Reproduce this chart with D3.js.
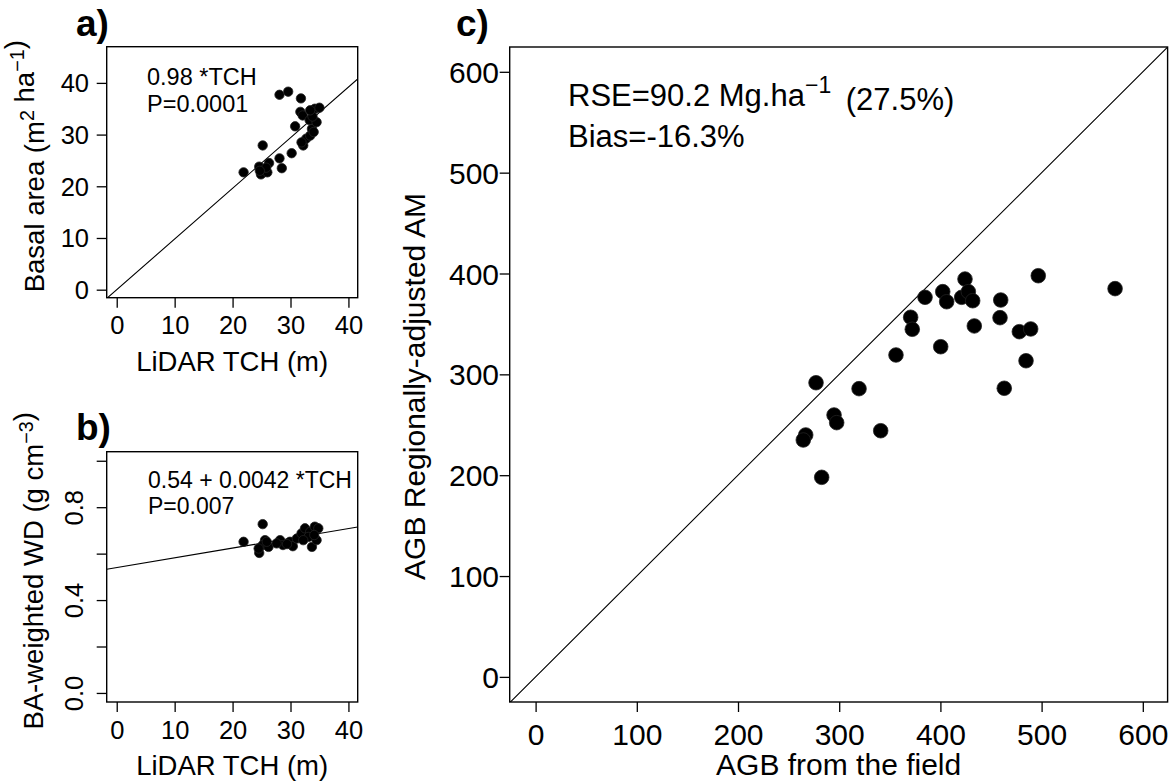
<!DOCTYPE html>
<html>
<head>
<meta charset="utf-8">
<title>TCH panels</title>
<style>
  body { margin: 0; background: #fff; }
  svg text { font-family: "Liberation Sans", Arial, Helvetica, sans-serif; fill: #000; }
</style>
</head>
<body>
<script src="https://cdn.jsdelivr.net/npm/d3@7/dist/d3.min.js"></script>
<script>
  // ---- data ----
  // panel a: LiDAR TCH (m) vs basal area (m2/ha)
  var tchA = [21.9, 25.2, 24.6, 25.3, 24.9, 26.0, 26.3, 28.1, 28.5, 30.2, 28.1, 29.6, 31.8, 30.8, 31.7,
              32.1, 32.2, 32.7, 33.4, 33.7, 33.3, 34.2, 35.0, 34.5, 33.8, 34.0, 31.9, 25.8, 33.4, 24.7];
  var baA  = [22.7, 27.9, 23.8, 22.7, 22.3, 22.7, 24.5, 25.4, 23.5, 26.4, 37.7, 38.3, 37.0, 31.6, 34.4,
              33.7, 27.9, 29.2, 29.8, 31.1, 32.8, 35.0, 35.2, 32.4, 33.5, 30.5, 28.5, 23.6, 34.7, 23.0];

  // panel b: LiDAR TCH (m) vs BA-weighted wood density
  var tchB = [21.9, 25.2, 24.6, 25.6, 25.2, 26.2, 28.2, 28.7, 29.9, 30.4, 31.1, 31.9, 32.5, 33.4, 34.2,
              34.8, 33.7, 34.5, 33.1, 29.4, 27.6, 24.5, 34.1, 32.2, 25.9];
  var wdB  = [0.651, 0.727, 0.603, 0.658, 0.637, 0.629, 0.658, 0.637, 0.651, 0.632, 0.665, 0.687, 0.709, 0.694, 0.716,
              0.709, 0.629, 0.658, 0.672, 0.641, 0.644, 0.622, 0.680, 0.658, 0.651];

  // panel c: field AGB vs regionally-adjusted AM
  var agbField = [496.7, 424.3, 402.3, 384.8, 406.2, 421.0, 427.6, 431.9, 459.6, 458.9, 433.5, 370.6, 372.2, 400.3,
                  356.1, 478.0, 489.2, 484.6, 463.1, 277.1, 319.6, 294.9, 297.5, 341.0, 266.9, 264.5, 282.7, 572.6];
  var agbAM    = [397.8, 394.5, 382.0, 376.4, 372.0, 376.4, 382.0, 373.0, 373.7, 356.2, 348.0, 356.6, 344.7, 327.4,
                  319.2, 342.3, 345.0, 313.5, 286.2, 291.7, 285.8, 259.7, 252.1, 244.1, 239.9, 234.9, 197.9, 385.0];

  // fitted lines
  var slopeA = 0.98;
  var interceptB = 0.54, slopeB = 0.0042;

  // ticks
  var tchTicks = [0, 10, 20, 30, 40];
  var baTicks = [0, 10, 20, 30, 40];
  var wdTicks = [0, 0.2, 0.4, 0.6, 0.8, 1.0];
  var wdLabelled = [0, 0.4, 0.8];
  var agbTicks = [0, 100, 200, 300, 400, 500, 600];

  var W = 1175, H = 782;
  var svg = d3.select("body").append("svg")
              .attr("width", W)
              .attr("height", H);
  svg.append("rect").attr("width", W).attr("height", H).attr("fill", "#fff");

  function zip(xs, ys) {
    return xs.map(function (d, i) { return [d, ys[i]]; });
  }

  // one scatter panel in R base-graphics style
  function panel(o) {
    var x = d3.scaleLinear().domain(o.xDom).range([o.left, o.right]);
    var y = d3.scaleLinear().domain(o.yDom).range([o.bottom, o.top]);
    var g = svg.append("g");

    var clipId = "clip-" + o.id;
    g.append("clipPath").attr("id", clipId)
      .append("rect")
      .attr("x", o.left).attr("y", o.top)
      .attr("width", o.right - o.left).attr("height", o.bottom - o.top);

    // x axis
    var xAxis = d3.axisBottom(x).tickValues(o.xTicks).tickSize(10).tickSizeOuter(0);
    var ax = g.append("g").attr("transform", "translate(0," + o.bottom + ")").call(xAxis);
    ax.select(".domain").remove();
    ax.selectAll("line").attr("stroke", "#000").attr("stroke-width", 1.3);
    ax.selectAll("text")
      .attr("font-size", o.tickFont)
      .attr("dy", null)
      .attr("y", o.xLabelY - o.bottom);

    // y axis
    var yAxis = d3.axisLeft(y).tickValues(o.yTicks).tickSize(10).tickSizeOuter(0)
                  .tickFormat(o.yFormat || d3.format("d"));
    var ay = g.append("g").attr("transform", "translate(" + o.left + ",0)").call(yAxis);
    ay.select(".domain").remove();
    ay.selectAll("line").attr("stroke", "#000").attr("stroke-width", 1.3);
    if (o.yRotate) {
      ay.selectAll("text")
        .attr("font-size", o.tickFont)
        .attr("x", null).attr("dy", null)
        .attr("text-anchor", "middle")
        .attr("transform", "translate(" + (o.yLabelX - o.left) + ",0) rotate(-90)");
    } else {
      ay.selectAll("text")
        .attr("font-size", o.tickFont)
        .attr("x", o.yLabelX - o.left)
        .attr("dy", "0.35em");
    }

    // fitted / reference line
    g.append("path")
      .datum(d3.range(o.xDom[0], o.xDom[1] + 1e-9, (o.xDom[1] - o.xDom[0]) / 2))
      .attr("clip-path", "url(#" + clipId + ")")
      .attr("d", d3.line().x(function (d) { return x(d); }).y(function (d) { return y(o.line(d)); }))
      .attr("fill", "none")
      .attr("stroke", "#000")
      .attr("stroke-width", 1.1);

    // points
    g.append("g").selectAll("circle")
      .data(o.points)
      .join("circle")
      .attr("cx", function (d) { return x(d[0]); })
      .attr("cy", function (d) { return y(d[1]); })
      .attr("r", o.r)
      .attr("fill", "#000")
      .attr("stroke", "#222")
      .attr("stroke-width", 0.8);

    // box
    g.append("rect")
      .attr("x", o.left).attr("y", o.top)
      .attr("width", o.right - o.left).attr("height", o.bottom - o.top)
      .attr("fill", "none").attr("stroke", "#000").attr("stroke-width", 1.4);

    // x title
    g.append("text")
      .attr("x", (o.left + o.right) / 2)
      .attr("y", o.xTitleY)
      .attr("text-anchor", "middle")
      .attr("font-size", o.titleFont)
      .text(o.xTitle);

    // y title (rotated, with superscripts)
    var yt = g.append("text")
      .attr("text-anchor", "middle")
      .attr("font-size", o.titleFont)
      .attr("transform", "translate(" + o.yTitleX + "," + ((o.top + o.bottom) / 2 + o.yTitleShift) + ") rotate(-90)");
    o.yTitle.forEach(function (part) {
      if (part.sup) {
        yt.append("tspan").attr("dy", "-0.5em").attr("font-size", o.titleFont * 0.72).text(part.t);
        yt.append("tspan").attr("dy", "0.5em").text("");
      } else {
        yt.append("tspan").text(part.t);
      }
    });

    // panel tag
    svg.append("text")
      .attr("x", o.tagX).attr("y", o.tagY)
      .attr("font-size", 37).attr("font-weight", "bold")
      .text(o.tag);

    return { x: x, y: y, g: g };
  }

  // ---- panel a ----
  var pa = panel({
    id: "a", tag: "a)", tagX: 76, tagY: 36,
    left: 106.7, right: 357.7, top: 46.7, bottom: 297.7,
    xDom: [-1.73, 41.6], yDom: [-1.55, 47.0],
    xTicks: tchTicks, yTicks: baTicks,
    points: zip(tchA, baA), r: 4.7,
    line: function (t) { return slopeA * t; },
    tickFont: 25.5, titleFont: 27.5,
    xLabelY: 334, xTitleY: 371, yLabelX: 89,
    xTitle: "LiDAR TCH (m)",
    yTitle: [{ t: "Basal area (m" }, { t: "2", sup: true }, { t: " ha" }, { t: "\u22121", sup: true }, { t: ")" }],
    yTitleX: 44, yTitleShift: -6
  });
  pa.g.append("text").attr("x", 147).attr("y", 85).attr("font-size", 23.5).text("0.98 *TCH");
  pa.g.append("text").attr("x", 147).attr("y", 111.5).attr("font-size", 23.5).text("P=0.0001");

  // ---- panel b ----
  var pb = panel({
    id: "b", tag: "b)", tagX: 76, tagY: 440,
    left: 106.7, right: 357.7, top: 451.7, bottom: 702,
    xDom: [-1.73, 41.6], yDom: [-0.039, 1.039],
    xTicks: tchTicks, yTicks: wdTicks,
    yFormat: function (d) { return wdLabelled.indexOf(d) >= 0 ? d3.format(".1f")(d) : ""; },
    yRotate: true,
    points: zip(tchB, wdB), r: 4.7,
    line: function (t) { return interceptB + slopeB * t; },
    tickFont: 25.5, titleFont: 27.5,
    xLabelY: 739, xTitleY: 775, yLabelX: 83,
    xTitle: "LiDAR TCH (m)",
    yTitle: [{ t: "BA-weighted WD (g cm" }, { t: "\u22123", sup: true }, { t: ")" }],
    yTitleX: 43, yTitleShift: -6
  });
  pb.g.append("text").attr("x", 148).attr("y", 488).attr("font-size", 23).text("0.54 + 0.0042 *TCH");
  pb.g.append("text").attr("x", 148).attr("y", 514).attr("font-size", 23).text("P=0.007");

  // ---- panel c ----
  var pc = panel({
    id: "c", tag: "c)", tagX: 456, tagY: 36,
    left: 509.7, right: 1167.6, top: 47, bottom: 702,
    xDom: [-25.6, 624.5], yDom: [-24.9, 624.6],
    xTicks: agbTicks, yTicks: agbTicks,
    points: zip(agbField, agbAM), r: 7.3,
    line: function (t) { return t; },
    tickFont: 30, titleFont: 30,
    xLabelY: 745, xTitleY: 775, yLabelX: 499,
    xTitle: "AGB from the field",
    yTitle: [{ t: "AGB Regionally-adjusted AM" }],
    yTitleX: 425, yTitleShift: 12
  });
  var rse = pc.g.append("text").attr("x", 568).attr("y", 106).attr("font-size", 31);
  rse.append("tspan").text("RSE=90.2 Mg.ha");
  rse.append("tspan").attr("dy", "-0.55em").attr("font-size", 23).text("\u22121");
  rse.append("tspan").attr("dy", "0.55em").attr("dx", 6).text(" (27.5%)");
  pc.g.append("text").attr("x", 568).attr("y", 146.5).attr("font-size", 31).text("Bias=-16.3%");
</script>
</body>
</html>
